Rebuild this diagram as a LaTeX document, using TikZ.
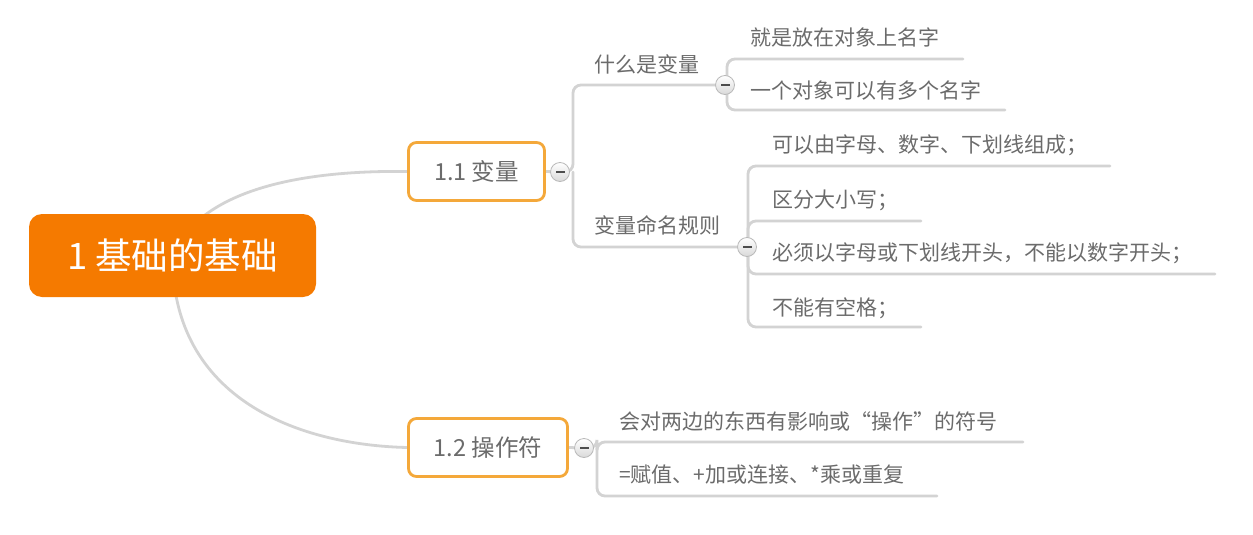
\documentclass[tikz,border=0pt]{standalone}
\usepackage{fontspec}
\setmainfont{Noto Sans CJK SC}
\usetikzlibrary{backgrounds}
\definecolor{linegray}{HTML}{D3D3D3}
\definecolor{txtgray}{HTML}{6B6B6B}
\definecolor{rootorange}{HTML}{F57A00}
\definecolor{boxorange}{HTML}{F4A83A}
\tikzset{
  conn/.style={draw=linegray, line width=2.8pt, line cap=round},
  branch/.style={conn, rounded corners=8pt},
  rootbox/.style={fill=rootorange, rounded corners=13pt, inner sep=0pt,
    minimum width=287pt, minimum height=83pt, text=white,
    font=\fontsize{36.5}{42}\selectfont},
  topicbox/.style={draw=boxorange, line width=2.8pt, fill=white, rounded corners=8pt,
    inner sep=0pt, minimum height=58pt, text=txtgray,
    font=\fontsize{23.5}{28}\selectfont},
  leaf/.style={anchor=west, inner sep=0pt, text=txtgray, text height=0.88em, text depth=0.12em,
    yshift=-3.5pt, font=\fontsize{21}{25}\selectfont},
  collapse/.style={circle, minimum size=19pt, inner sep=0pt, draw=gray!55, line width=0.8pt,
    top color=white, bottom color=gray!30,
    path picture={\fill[black!70] (path picture bounding box.center) ++(-4.5,-1.4) rectangle ++(9,2.8);}}
}
\begin{document}
\begin{tikzpicture}[x=1pt,y=-1pt]
\useasboundingbox (0,0) rectangle (1253,535);

% main nodes
\node[rootbox] (root) at (172.5,255.5) {1 基础的基础};
\node[topicbox, minimum width=136pt] (v11) at (476.5,171.5) {1.1 变量};
\node[topicbox, minimum width=159pt] (v12) at (488,447.5) {1.2 操作符};

% labels and leaves
\node[leaf] (twhat) at (594,65) {什么是变量};
\node[leaf] (tname) at (594,226) {变量命名规则};
\node[leaf] (tw1) at (750,38) {就是放在对象上名字};
\node[leaf] (tw2) at (750,91) {一个对象可以有多个名字};
\node[leaf] (tn1) at (772,145) {可以由字母、数字、下划线组成；};
\node[leaf] (tn2) at (772,200) {区分大小写；};
\node[leaf] (tn3) at (772,253) {必须以字母或下划线开头，不能以数字开头；};
\node[leaf] (tn4) at (772,308) {不能有空格；};
\node[leaf] (to1) at (619,422) {会对两边的东西有影响或“操作”的符号};
\node[leaf] (to2) at (619,475) {=赋值、+加或连接、*乘或重复};

% junction coordinates and free ends
\coordinate (k11) at (573,172);
\coordinate (kw) at (727,85);
\coordinate (kn) at (748,247);
\coordinate (k12) at (597,448);
\coordinate (ew1) at (963,59);
\coordinate (ew2) at (1005,110);
\coordinate (en1) at (1110,166);
\coordinate (en2) at (921,221);
\coordinate (en3) at (1215,274);
\coordinate (en4) at (921,327);
\coordinate (eo1) at (1023,442);
\coordinate (eo2) at (937,496);

\begin{scope}[on background layer]
  \draw[conn, line cap=butt] (root.center) .. controls (200,190) and (300,170) .. (v11.west);
  \draw[conn, line cap=butt] (root.center) .. controls (172,400) and (300,445) .. (v12.west);

  \coordinate (c11p) at (560,172);
  \coordinate (cwp) at (725,85);
  \coordinate (cnp) at (747,247);
  \coordinate (c12p) at (584,448);

  \draw[conn] (v11.east) -- (c11p);
  \draw[branch] (c11p) -- (k11) |- (cwp);
  \draw[branch] (k11) |- (cnp);

  \draw[branch] (cwp) -- (kw) |- (ew1);
  \draw[branch] (kw) |- (ew2);

  \draw[branch] (cnp) -- (kn) |- (en1);
  \draw[branch] (kn) |- (en2);
  \draw[branch] (kn) |- (en3);
  \draw[branch] (kn) |- (en4);

  \draw[conn] (v12.east) -- (c12p);
  \draw[branch] (c12p) -- (k12) |- (eo1);
  \draw[branch] (k12) |- (eo2);
\end{scope}

% collapse buttons
\node[collapse] (c11) at (c11p) {};
\node[collapse] (cw) at (cwp) {};
\node[collapse] (cn) at (cnp) {};
\node[collapse] (c12) at (c12p) {};
\end{tikzpicture}
\end{document}
